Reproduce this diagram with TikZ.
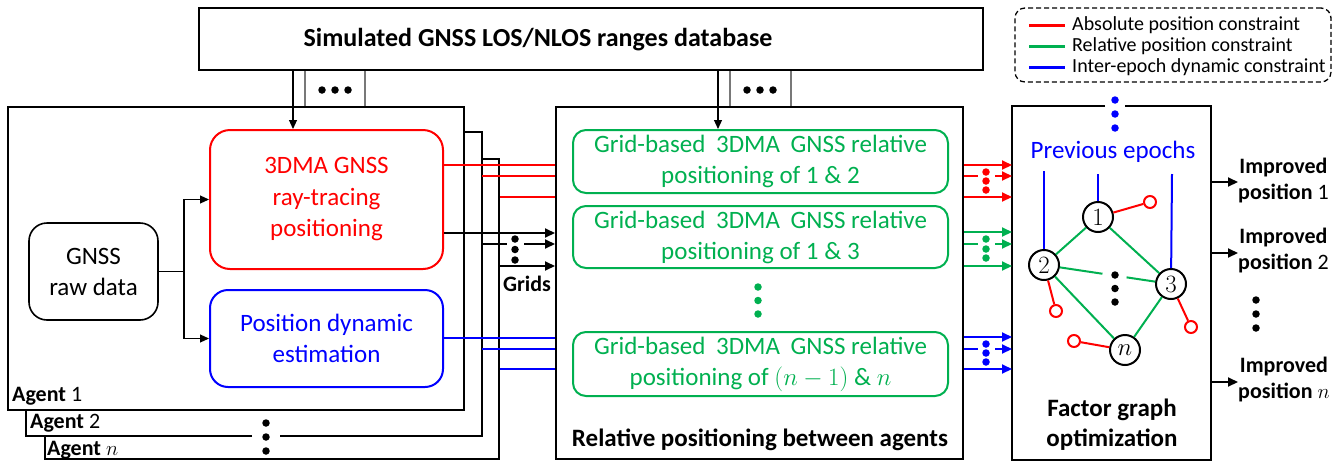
\documentclass[tikz,border=0pt]{standalone}
\usepackage{fontspec}
\setmainfont{Carlito}
\usetikzlibrary{arrows.meta,fit,calc}
\definecolor{absred}{RGB}{255,0,0}
\definecolor{relgreen}{RGB}{0,176,80}
\definecolor{dynblue}{RGB}{0,0,255}
\definecolor{feedgray}{RGB}{120,120,120}

\tikzset{
  frame/.style={draw, line width=2pt, fill=white, inner sep=0pt},
  procbox/.style={draw=#1, text=#1, line width=2pt, rounded corners=16pt, fill=white,
                  inner sep=0pt, align=center, font=\fontsize{25}{31}\selectfont},
  boxsize/.style 2 args={minimum width=#1, minimum height=#2},
  wire/.style={line width=2pt},
  fine/.style={line width=1.1pt},
  tipA/.style={-{Triangle[length=10pt,width=9pt]}},
  tipB/.style={-{Triangle[length=9pt,width=8pt]}},
  bigdot/.style={circle, fill=#1, draw=none, inner sep=0pt, minimum size=7.5pt},
  var/.style={circle, draw, line width=2pt, fill=white, inner sep=0pt, minimum size=30pt,
              font=\fontsize{23}{23}\selectfont},
  prior/.style={circle, draw=absred, line width=2pt, fill=white, inner sep=0pt, minimum size=12pt},
  txt/.style={inner sep=0pt, align=center},
  bigbold/.style={font=\bfseries\fontsize{25}{30}\selectfont},
  midbold/.style={font=\bfseries\fontsize{22}{26}\selectfont},
  keytext/.style={anchor=west, inner sep=0pt, font=\fontsize{20}{20}\selectfont},
}
\newcommand{\gridline}{Grid-based\hspace{5pt} 3DMA\hspace{5pt} GNSS relative}

\begin{document}
\begin{tikzpicture}[x=1pt,y=-1pt]
\useasboundingbox (0,0) rectangle (1342,464);

% ---------- database ----------
\node[frame, line width=2.6pt, fit={(199,8) (983,70)}] (db) {};
\node[txt, font=\bfseries\fontsize{26}{30}\selectfont] (dbt) at (538,40) {Simulated GNSS LOS/NLOS ranges database};

% ---------- stacked agent frames ----------
\node[frame, fit={(45,159) (499,459)}] (an) {};
\node[frame, draw=none, fit={(27,133) (481,435)}] (a2) {};
\draw[wire] (a2.south -| 252,0) -- (a2.south west) -- (a2.north west)
  -- (a2.north east) -- (a2.south east) -- (a2.south -| 280,0);
\node[frame, fit={(8,107) (464,410)}] (a1) {};

\node[txt, anchor=west, midbold] (lab1) at (12,396) {Agent \mdseries 1};
\node[txt, anchor=west, midbold] (lab2) at (30,423) {Agent \mdseries 2};
\node[txt, anchor=west, midbold] (labn) at (47,450) {Agent \mdseries$n$};
\node[bigdot=black] (ad1) at (266,423) {};
\node[bigdot=black] (ad2) at (266,437) {};
\node[bigdot=black] (ad3) at (266,451) {};

% ---------- agent 1 contents ----------
\node[procbox=black, line width=1.6pt, rounded corners=18pt, boxsize={129pt}{97pt},
      font=\fontsize{25}{31}\selectfont] (raw) at (93.5,271.5) {GNSS\\raw data};
\node[procbox=absred, rounded corners=20pt, boxsize={233pt}{139pt},
      font=\fontsize{25}{31.5}\selectfont] (rt) at (326.5,199.5) {3DMA GNSS\\ray-tracing\\positioning};
\node[procbox=dynblue, rounded corners=18pt, boxsize={233pt}{97pt},
      font=\fontsize{25}{31.5}\selectfont] (dyn) at (326.5,338.5) {Position dynamic\\estimation};

\draw[fine] (raw.east) -- (raw.east -| 184,0) coordinate (sp);
\draw[fine, tipB] (sp) |- (rt.west);
\draw[fine, tipB] (sp) |- (dyn.west);

% ---------- relative positioning block ----------
\node[frame, fit={(556,107) (963,459)}] (mid) {};
\node[txt, bigbold] (midlab) at (760,440) {Relative positioning between agents};
\node[procbox=relgreen, rounded corners=13pt, boxsize={375pt}{63pt}] (g1) at (760.5,161.5)
  {\gridline\\positioning of 1 \& 2};
\node[procbox=relgreen, rounded corners=13pt, boxsize={375pt}{62pt}] (g2) at (760.5,237)
  {\gridline\\positioning of 1 \& 3};
\node[procbox=relgreen, rounded corners=13pt, boxsize={375pt}{64pt}] (g3) at (760.5,364)
  {\gridline\\positioning of $(n-1)$ \& $n$};
\node[bigdot=relgreen] (gd1) at (758,287) {};
\node[bigdot=relgreen] (gd2) at (758,300.5) {};
\node[bigdot=relgreen] (gd3) at (758,314) {};

% ---------- database feeds ----------
\draw[fine, tipB] (db.south -| 293,0) -- (rt.north -| 293,0);
\draw[fine, feedgray] (db.south -| 305,0) -- (a1.north -| 305,0);
\draw[fine, feedgray] (db.south -| 365,0) -- (a1.north -| 365,0);
\node[bigdot=black] (fa1) at (322,90) {};
\node[bigdot=black] (fa2) at (335,90) {};
\node[bigdot=black] (fa3) at (348,90) {};
\draw[fine, tipB] (db.south -| 718,0) -- (g1.north -| 718,0);
\draw[fine, feedgray] (db.south -| 730,0) -- (mid.north -| 730,0);
\draw[fine, feedgray] (db.south -| 791,0) -- (mid.north -| 791,0);
\node[bigdot=black] (fb1) at (747,90) {};
\node[bigdot=black] (fb2) at (760,90) {};
\node[bigdot=black] (fb3) at (773,90) {};

% ---------- agents -> relative positioning ----------
\draw[wire, absred] (rt.east |- 0,165) -- (mid.west |- 0,165);
\draw[wire, absred] (a2.east |- 0,176) -- (mid.west |- 0,176);
\draw[wire, absred] (an.east |- 0,197) -- (mid.west |- 0,197);

\draw[wire, tipA] (rt.east |- 0,233) -- (mid.west |- 0,233);
\draw[wire] (a2.east |- 0,244) -- (507,244);
\draw[wire, tipA] (524,244) -- (mid.west |- 0,244);
\draw[wire, tipA] (an.east |- 0,266) -- (mid.west |- 0,266);
\node[bigdot=black] (kd1) at (515,239) {};
\node[bigdot=black] (kd2) at (515,249.5) {};
\node[bigdot=black] (kd3) at (515,260) {};
\node[txt, midbold] (grids) at (527,284) {Grids};

\draw[wire, dynblue] (dyn.east |- 0,338) -- (mid.west |- 0,338);
\draw[wire, dynblue] (a2.east |- 0,349) -- (mid.west |- 0,349);
\draw[wire, dynblue] (an.east |- 0,369) -- (mid.west |- 0,369);

% ---------- factor graph block ----------
\node[frame, draw=none, fit={(1013,107) (1210,459)}] (fac) {};
\draw[wire] (fac.north -| 1105,0) -- (fac.north west) -- (fac.south west)
  -- (fac.south east) -- (fac.north east) -- (fac.north -| 1125,0);
\node[bigdot=dynblue] (pd1) at (1115,100) {};
\node[bigdot=dynblue] (pd2) at (1115,114) {};
\node[bigdot=dynblue] (pd3) at (1115,128) {};
\node[txt, text=dynblue, font=\fontsize{25}{30}\selectfont] (prev) at (1113,152) {Previous epochs};
\node[txt, bigbold] (faclab) at (1112,425) {Factor graph\\optimization};

% relative positioning -> factor graph
\draw[wire, absred, tipA] (mid.east |- 0,165) -- (fac.west |- 0,165);
\draw[wire, absred] (mid.east |- 0,176) -- (978,176);
\draw[wire, absred, tipA] (995,176) -- (fac.west |- 0,176);
\draw[wire, absred, tipA] (mid.east |- 0,197) -- (fac.west |- 0,197);
\node[bigdot=absred] (rd1) at (986,172) {};
\node[bigdot=absred] (rd2) at (986,181) {};
\node[bigdot=absred] (rd3) at (986,190) {};

\draw[wire, relgreen, tipA] (mid.east |- 0,232) -- (fac.west |- 0,232);
\draw[wire, relgreen] (mid.east |- 0,244) -- (978,244);
\draw[wire, relgreen, tipA] (995,244) -- (fac.west |- 0,244);
\draw[wire, relgreen, tipA] (mid.east |- 0,266) -- (fac.west |- 0,266);
\node[bigdot=relgreen] (sd1) at (986,239) {};
\node[bigdot=relgreen] (sd2) at (986,249) {};
\node[bigdot=relgreen] (sd3) at (986,258) {};

\draw[wire, dynblue, tipA] (mid.east |- 0,337) -- (fac.west |- 0,337);
\draw[wire, dynblue] (mid.east |- 0,349) -- (978,349);
\draw[wire, dynblue, tipA] (995,349) -- (fac.west |- 0,349);
\draw[wire, dynblue, tipA] (mid.east |- 0,369) -- (fac.west |- 0,369);
\node[bigdot=dynblue] (bd1) at (986,344) {};
\node[bigdot=dynblue] (bd2) at (986,353) {};
\node[bigdot=dynblue] (bd3) at (986,362) {};

% graph
\coordinate (e1) at (1098,174);
\coordinate (e2) at (1044,171);
\coordinate (e3) at (1172,174);
\node[var] (n1) at (1098,217) {$1$};
\node[var] (n2) at (1044,265) {$2$};
\node[var] (n3) at (1171,284) {$3$};
\node[var] (nn) at (1125,350) {$n$};
\node[prior] (p1) at (1150,202) {};
\node[prior] (p2) at (1056,311) {};
\node[prior] (p3) at (1191,327) {};
\node[prior] (pn) at (1074,341) {};
\draw[wire, dynblue] (e1) -- (n1);
\draw[wire, dynblue] (e2) -- (n2);
\draw[wire, dynblue] (e3) -- (n3);
\draw[wire, relgreen] (n1) -- (n2);
\draw[wire, relgreen] (n1) -- (n3);
\draw[wire, relgreen] (n2) -- (nn);
\draw[wire, relgreen] (n3) -- (nn);
\draw[wire, relgreen] (n2) -- ($(n2)!0.46!(n3)$);
\draw[wire, relgreen] ($(n2)!0.65!(n3)$) -- (n3);
\draw[wire, absred] (n1) -- (p1);
\draw[wire, absred] (n2) -- (p2);
\draw[wire, absred] (n3) -- (p3);
\draw[wire, absred] (nn) -- (pn);
\node[bigdot=black] (cd1) at (1115,275) {};
\node[bigdot=black] (cd2) at (1115,288.5) {};
\node[bigdot=black] (cd3) at (1115,302) {};

% outputs
\node[txt, midbold, anchor=west] (o1) at (1238,181) {Improved\\position \mdseries 1};
\node[txt, midbold, anchor=west] (o2) at (1238,251) {Improved\\position \mdseries 2};
\node[txt, midbold, anchor=west] (on) at (1238,380) {Improved\\position \mdseries$n$};
\draw[wire, tipA] (fac.east |- 0,182) -- (o1.west |- 0,182);
\draw[wire, tipA] (fac.east |- 0,253) -- (o2.west |- 0,253);
\draw[wire, tipA] (fac.east |- 0,382) -- (on.west |- 0,382);
\node[bigdot=black] (od1) at (1256,300) {};
\node[bigdot=black] (od2) at (1256,314) {};
\node[bigdot=black] (od3) at (1256,328) {};

% ---------- legend ----------
\node[draw, line width=1.3pt, dash pattern=on 5pt off 3pt, rounded corners=10pt,
      inner sep=0pt, fit={(1015,8) (1331,82)}] (leg) {};
\coordinate (k1) at (1029,25);
\coordinate (k2) at (1029,46);
\coordinate (k3) at (1029,67);
\draw[absred, line width=3pt] (k1) -- ++(36,0);
\draw[relgreen, line width=3pt] (k2) -- ++(36,0);
\draw[dynblue, line width=3pt] (k3) -- ++(36,0);
\node[keytext] (t1) at (1072,25) {Absolute position constraint};
\node[keytext] (t2) at (1072,46) {Relative position constraint};
\node[keytext] (t3) at (1072,67) {Inter-epoch dynamic constraint};
\end{tikzpicture}
\end{document}
